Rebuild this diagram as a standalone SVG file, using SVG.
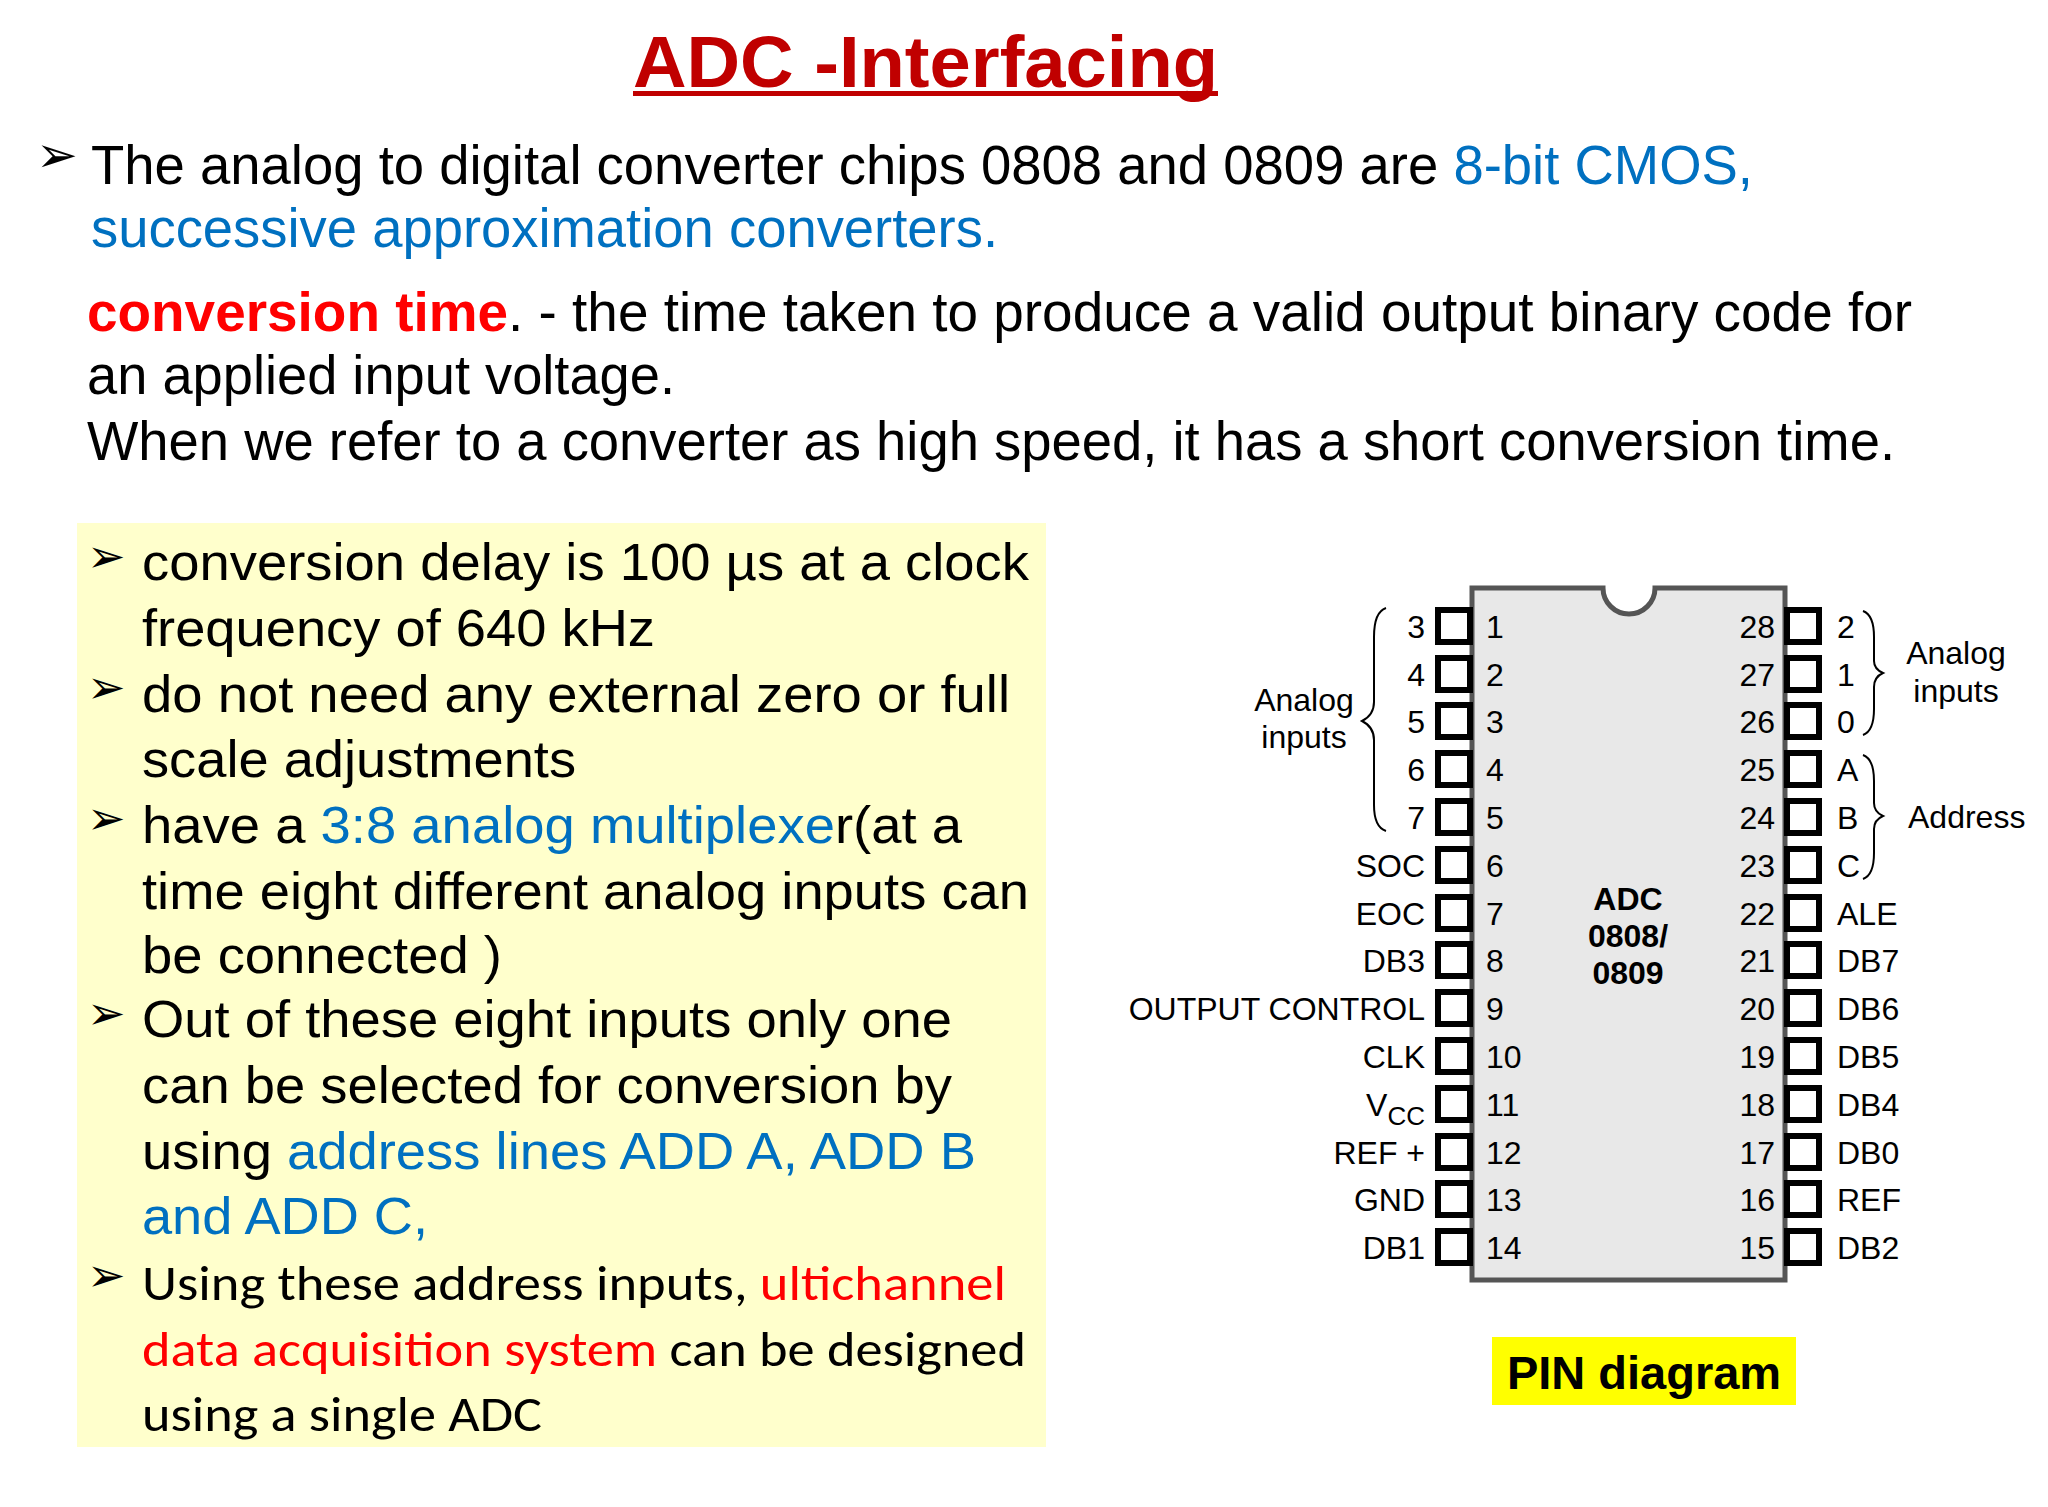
<svg xmlns="http://www.w3.org/2000/svg" width="2048" height="1507" viewBox="0 0 2048 1507">
<style>
.t{font-family:"Liberation Sans",Arial,sans-serif;fill:#000}
.b{fill:#0070c0}.r{fill:#ff0000}
.p{font-family:"Liberation Sans",Arial,sans-serif;font-size:32px;fill:#000}
.pin{fill:#fff;stroke:#000;stroke-width:6}
.br{fill:none;stroke:#000;stroke-width:2}
</style>
<rect width="2048" height="1507" fill="#fff"/>
<g id="title">
<text class="t" x="633" y="87" font-size="72" font-weight="bold" style="fill:#c00000" textLength="585" lengthAdjust="spacingAndGlyphs">ADC -Interfacing</text>
<rect x="633" y="91" width="585" height="5" fill="#c00000"/>
</g>
<g id="intro" class="t" font-size="55">
<text x="36" y="172" font-size="50">➢</text>
<text x="91" y="184" textLength="1662" lengthAdjust="spacingAndGlyphs">The analog to digital converter chips 0808 and 0809 are <tspan class="b">8-bit CMOS,</tspan></text>
<text x="91" y="247" class="b" textLength="907" lengthAdjust="spacingAndGlyphs">successive approximation converters.</text>
<text x="87" y="331" textLength="1825" lengthAdjust="spacingAndGlyphs"><tspan class="r" font-weight="bold">conversion time</tspan>. - the time taken  to produce a valid output binary code for</text>
<text x="87" y="394" textLength="588" lengthAdjust="spacingAndGlyphs">an applied input voltage.</text>
<text x="87" y="460" textLength="1808" lengthAdjust="spacingAndGlyphs">When we refer to a converter as high speed, it has a short conversion time.</text>
</g>
<g id="bullets" class="t" font-size="52">
<rect x="77" y="523" width="969" height="924" fill="#ffffcc"/>
<g font-size="46">
<text x="87" y="572">➢</text>
<text x="87" y="703">➢</text>
<text x="87" y="834">➢</text>
<text x="87" y="1029">➢</text>
<text x="87" y="1291">➢</text>
</g>
<text x="142" y="580" textLength="887" lengthAdjust="spacingAndGlyphs">conversion delay is 100 µs at a clock</text>
<text x="142" y="646" textLength="513" lengthAdjust="spacingAndGlyphs">frequency of 640 kHz</text>
<text x="142" y="712" textLength="868" lengthAdjust="spacingAndGlyphs">do not need any external zero or full</text>
<text x="142" y="777" textLength="434" lengthAdjust="spacingAndGlyphs">scale adjustments</text>
<text x="142" y="843" textLength="820" lengthAdjust="spacingAndGlyphs">have a <tspan class="b">3:8 analog multiplexe</tspan>r(at a</text>
<text x="142" y="909" textLength="887" lengthAdjust="spacingAndGlyphs">time eight different analog inputs can</text>
<text x="142" y="973" textLength="360" lengthAdjust="spacingAndGlyphs">be connected )</text>
<text x="142" y="1037" textLength="810" lengthAdjust="spacingAndGlyphs">Out of these eight inputs only one</text>
<text x="142" y="1103" textLength="810" lengthAdjust="spacingAndGlyphs">can be selected for conversion by</text>
<text x="142" y="1169" textLength="834" lengthAdjust="spacingAndGlyphs">using <tspan class="b">address lines ADD A, ADD B</tspan></text>
<text x="142" y="1234" class="b" textLength="286" lengthAdjust="spacingAndGlyphs">and ADD C,</text>
<g font-family="Carlito,Lato,sans-serif" font-size="50">
<text x="142" y="1300" textLength="864" lengthAdjust="spacingAndGlyphs">Using these address inputs, <tspan class="r">ultichannel</tspan></text>
<text x="142" y="1366" textLength="884" lengthAdjust="spacingAndGlyphs"><tspan class="r">data acquisition system</tspan> can be designed</text>
<text x="142" y="1431" textLength="400" lengthAdjust="spacingAndGlyphs">using a single ADC</text>
</g>
</g>
<g transform="translate(-8,-3)">
<g id="chip">
<path d="M1480,591 H1611 A26,26 0 0 0 1663,591 H1793 V1283 H1480 Z" fill="#e8e8e8" stroke="#555" stroke-width="5"/>
<text class="t" x="1636" y="913" font-size="32" font-weight="bold" fill="#333" text-anchor="middle">ADC</text>
<text class="t" x="1636" y="950" font-size="32" font-weight="bold" fill="#333" text-anchor="middle">0808/</text>
<text class="t" x="1636" y="987" font-size="32" font-weight="bold" fill="#333" text-anchor="middle">0809</text>
</g>
<g id="pins">
<g id="left-pins">
<rect class="pin" x="1446" y="613" width="32" height="32"/><rect class="pin" x="1446" y="661" width="32" height="32"/><rect class="pin" x="1446" y="708" width="32" height="32"/><rect class="pin" x="1446" y="756" width="32" height="32"/><rect class="pin" x="1446" y="804" width="32" height="32"/><rect class="pin" x="1446" y="852" width="32" height="32"/><rect class="pin" x="1446" y="900" width="32" height="32"/><rect class="pin" x="1446" y="947" width="32" height="32"/><rect class="pin" x="1446" y="995" width="32" height="32"/><rect class="pin" x="1446" y="1043" width="32" height="32"/><rect class="pin" x="1446" y="1091" width="32" height="32"/><rect class="pin" x="1446" y="1139" width="32" height="32"/><rect class="pin" x="1446" y="1186" width="32" height="32"/><rect class="pin" x="1446" y="1234" width="32" height="32"/>
</g>
<g id="right-pins">
<rect class="pin" x="1795" y="613" width="32" height="32"/><rect class="pin" x="1795" y="661" width="32" height="32"/><rect class="pin" x="1795" y="708" width="32" height="32"/><rect class="pin" x="1795" y="756" width="32" height="32"/><rect class="pin" x="1795" y="804" width="32" height="32"/><rect class="pin" x="1795" y="852" width="32" height="32"/><rect class="pin" x="1795" y="900" width="32" height="32"/><rect class="pin" x="1795" y="947" width="32" height="32"/><rect class="pin" x="1795" y="995" width="32" height="32"/><rect class="pin" x="1795" y="1043" width="32" height="32"/><rect class="pin" x="1795" y="1091" width="32" height="32"/><rect class="pin" x="1795" y="1139" width="32" height="32"/><rect class="pin" x="1795" y="1186" width="32" height="32"/><rect class="pin" x="1795" y="1234" width="32" height="32"/>
</g>
<g class="p">
<text x="1494" y="641">1</text><text x="1494" y="689">2</text><text x="1494" y="736">3</text><text x="1494" y="784">4</text><text x="1494" y="832">5</text><text x="1494" y="880">6</text><text x="1494" y="928">7</text><text x="1494" y="975">8</text><text x="1494" y="1023">9</text><text x="1494" y="1071">10</text><text x="1494" y="1119">11</text><text x="1494" y="1167">12</text><text x="1494" y="1214">13</text><text x="1494" y="1262">14</text>
</g>
<g class="p" text-anchor="end">
<text x="1783" y="641">28</text><text x="1783" y="689">27</text><text x="1783" y="736">26</text><text x="1783" y="784">25</text><text x="1783" y="832">24</text><text x="1783" y="880">23</text><text x="1783" y="928">22</text><text x="1783" y="975">21</text><text x="1783" y="1023">20</text><text x="1783" y="1071">19</text><text x="1783" y="1119">18</text><text x="1783" y="1167">17</text><text x="1783" y="1214">16</text><text x="1783" y="1262">15</text>
</g>
<g class="p" text-anchor="end">
<text x="1433" y="641">3</text><text x="1433" y="689">4</text><text x="1433" y="736">5</text><text x="1433" y="784">6</text><text x="1433" y="832">7</text><text x="1433" y="880">SOC</text><text x="1433" y="928">EOC</text><text x="1433" y="975">DB3</text><text x="1433" y="1023">OUTPUT CONTROL</text><text x="1433" y="1071">CLK</text><text x="1433" y="1119">V<tspan font-size="26" dy="9">CC</tspan></text><text x="1433" y="1167">REF +</text><text x="1433" y="1214">GND</text><text x="1433" y="1262">DB1</text>
</g>
<g class="p">
<text x="1845" y="641">2</text><text x="1845" y="689">1</text><text x="1845" y="736">0</text><text x="1845" y="784">A</text><text x="1845" y="832">B</text><text x="1845" y="880">C</text><text x="1845" y="928">ALE</text><text x="1845" y="975">DB7</text><text x="1845" y="1023">DB6</text><text x="1845" y="1071">DB5</text><text x="1845" y="1119">DB4</text><text x="1845" y="1167">DB0</text><text x="1845" y="1214">REF</text><text x="1845" y="1262">DB2</text>
</g>
</g>
<g id="braces">
<path class="br" d="M1394,611 Q1382,615 1382,640 V705 Q1382,718 1370,724 Q1382,730 1382,743 V808 Q1382,830 1394,834"/>
<path class="br" d="M1871,614 Q1882,618 1882,640 V664 Q1882,672 1891,676 Q1882,680 1882,690 V712 Q1882,734 1871,738"/>
<path class="br" d="M1871,758 Q1882,762 1882,784 V806 Q1882,815 1891,819 Q1882,823 1882,832 V856 Q1882,878 1871,882"/>
<g class="p" text-anchor="middle">
<text x="1312" y="714">Analog</text><text x="1312" y="751">inputs</text>
<text x="1964" y="667">Analog</text><text x="1964" y="705">inputs</text>
</g>
<text class="p" x="1916" y="831">Address</text>
</g>
</g>
<g id="caption">
<rect x="1492" y="1337" width="304" height="68" fill="#ffff00"/>
<text class="t" x="1644" y="1389" font-size="47" font-weight="bold" text-anchor="middle">PIN diagram</text>
</g>
</svg>
